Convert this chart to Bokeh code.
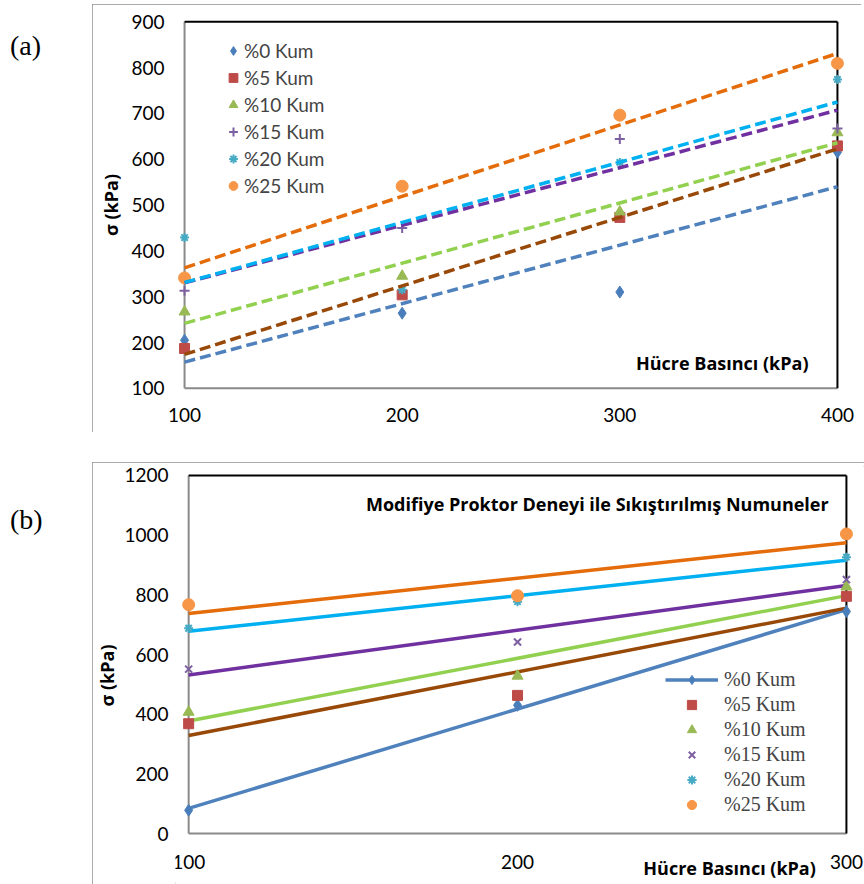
import numpy as np
from bokeh.plotting import figure
from bokeh.models import Range1d, FixedTicker, Legend, LegendItem, Label, Div
from bokeh.layouts import row, column
from bokeh.core.properties import value
from bokeh.embed import file_html
from bokeh.resources import INLINE

# ---------------- data ----------------
SERIES = ["%0 Kum", "%5 Kum", "%10 Kum", "%15 Kum", "%20 Kum", "%25 Kum"]

# panel (a)
A_X = [100, 200, 300, 400]
A_K0 = [205, 264, 310, 615]
A_K5 = [187, 304, 473, 629]
A_K10 = [267, 345, 485, 658]
A_K15 = [313, 450, 644, 667]
A_K20 = [429, 315, 593, 774]
A_K25 = [341, 541, 696, 809]
A_Y_TICKS = [100, 200, 300, 400, 500, 600, 700, 800, 900]

# panel (b)
B_X = [100, 200, 300]
B_K0 = [78, 430, 744]
B_K5 = [368, 463, 795]
B_K10 = [407, 528, 827]
B_K15 = [551, 642, 851]
B_K20 = [688, 777, 926]
B_K25 = [767, 797, 1004]
B_Y_TICKS = [0, 200, 400, 600, 800, 1000, 1200]
B_X_TICK_LABELS = [str(v) for v in B_X]

A_VALUES = [A_K0, A_K5, A_K10, A_K15, A_K20, A_K25]
B_VALUES = [B_K0, B_K5, B_K10, B_K15, B_K20, B_K25]

X_TITLE = "Hücre Basıncı (kPa)"
Y_TITLE = "σ (kPa)"
B_TITLE = "Modifiye Proktor Deneyi ile Sıkıştırılmış Numuneler"

# ---------------- styles ----------------
MARKER_COLORS = ["#4A7EBB", "#BE4B48", "#98B954", "#7D60A0", "#46AAC5", "#F79646"]
LINE_COLORS = ["#4F81BD", "#984807", "#92D050", "#7030A0", "#00B0F0", "#E46C0A"]
A_MARKERS = ["diamond", "square", "triangle", "cross", "asterisk", "circle"]
B_MARKERS = ["diamond", "square", "triangle", "x", "asterisk", "circle"]
MARKER_SIZES = [12, 10, 11, 10, 9, 12]
FONT = "Lato"
BOLD_FONT = "Open Sans"


def style_axes(p, xticks, yticks):
    for ax in (p.xaxis, p.yaxis):
        ax.axis_line_color = None
        ax.major_tick_line_color = None
        ax.minor_tick_line_color = None
        ax.major_tick_out = 0
        ax.major_tick_in = 0
        ax.major_label_text_font = FONT
        ax.major_label_text_font_size = "19px"
        ax.major_label_text_color = "black"
    p.xaxis.ticker = FixedTicker(ticks=xticks)
    p.yaxis.ticker = FixedTicker(ticks=yticks)
    p.yaxis.axis_label = Y_TITLE
    p.yaxis.axis_label_text_font = BOLD_FONT
    p.yaxis.axis_label_text_font_style = "bold"
    p.yaxis.axis_label_text_font_size = "18px"
    p.yaxis.axis_label_text_color = "black"
    p.xgrid.visible = False
    p.ygrid.visible = False


def frame_box(p, xt, yt):
    xmin, xmax, ymin, ymax = xt[0], xt[-1], yt[0], yt[-1]
    p.segment(x0=[xmin, xmin], y0=[ymin, ymin], x1=[xmin, xmax], y1=[ymax, ymin],
              line_color="#8a8a8a", line_width=2)
    p.segment(x0=[xmin, xmax], y0=[ymax, ymin], x1=[xmax, xmax], y1=[ymax, ymax],
              line_color="black", line_width=2)


BOX_STYLE = {"outline": "2px solid #8f8f8f", "outline-offset": "-2px"}

# ---------------- panel (a) ----------------
pa = figure(output_backend="svg", toolbar_location=None,
            frame_width=679, frame_height=385,
            x_range=Range1d(94, 406), y_range=Range1d(80, 920),
            min_border_left=79, min_border_right=11, min_border_top=8, min_border_bottom=35,
            outline_line_color=None, background_fill_color="white",
            border_fill_color="white", styles=BOX_STYLE, margin=(4, 0, 0, 0))
style_axes(pa, A_X, A_Y_TICKS)
pa.xaxis.major_label_standoff = 10
pa.yaxis.major_label_standoff = 7
pa.yaxis.axis_label_standoff = 5
frame_box(pa, A_X, A_Y_TICKS)

a_items = []
for i, vals in enumerate(A_VALUES):
    lw = 2 if A_MARKERS[i] in ("cross", "asterisk", "x") else 1
    r = pa.scatter(A_X, vals, marker=A_MARKERS[i], size=MARKER_SIZES[i],
                   fill_color=MARKER_COLORS[i], line_color=MARKER_COLORS[i], line_width=lw)
    a_items.append(LegendItem(label=SERIES[i], renderers=[r]))
for i, vals in enumerate(A_VALUES):
    m, c = np.polyfit(A_X, vals, 1)
    xs = [A_X[0], A_X[-1]]
    pa.line(xs, [m * x + c for x in xs], line_color=LINE_COLORS[i], line_width=3.5,
            line_dash="11 5")

leg_a = Legend(items=a_items, location=(51, 200), glyph_width=22, glyph_height=23,
               label_height=23, spacing=4, padding=0, margin=0, label_standoff=0,
               border_line_color=None, background_fill_alpha=0,
               label_text_font=FONT, label_text_font_size="19px")
pa.add_layout(leg_a)
pa.add_layout(Label(x=386.7, y=155, text=X_TITLE, text_align="right",
                    text_baseline="middle", text_font=BOLD_FONT, text_font_style="bold",
                    text_font_size="18px", text_color="black"))

# ---------------- panel (b) ----------------
# the frame reaches the bottom of the panel so that the x labels and the x title
# (which sit below the plotted area in the reference) can be drawn inside it
pb = figure(output_backend="svg", toolbar_location=None,
            frame_width=690, frame_height=418,
            x_range=Range1d(96, 305.8), y_range=Range1d(-170.7, 1230),
            min_border_left=79, min_border_right=0, min_border_top=4, min_border_bottom=0,
            outline_line_color=None, background_fill_color="white",
            border_fill_color="white", styles=BOX_STYLE, margin=0)
style_axes(pb, B_X, B_Y_TICKS)
pb.xaxis.visible = False
pb.yaxis.major_label_standoff = 7
pb.yaxis.axis_label_standoff = 2
frame_box(pb, B_X, B_Y_TICKS)

b_lines = []
for i, vals in enumerate(B_VALUES):
    m, c = np.polyfit(B_X, vals, 1)
    xs = [B_X[0], B_X[-1]]
    lr = pb.line(xs, [m * x + c for x in xs], line_color=LINE_COLORS[i], line_width=3.5)
    b_lines.append(lr)
b_items = []
for i, vals in enumerate(B_VALUES):
    lw = 2 if B_MARKERS[i] in ("cross", "asterisk", "x") else 1
    r = pb.scatter(B_X, vals, marker=B_MARKERS[i], size=MARKER_SIZES[i],
                   fill_color=MARKER_COLORS[i], line_color=MARKER_COLORS[i], line_width=lw)
    rends = [b_lines[0], r] if i == 0 else [r]
    b_items.append(LegendItem(label=SERIES[i], renderers=rends))

# x tick labels of (b), placed below the x = axis line (value 0)
pb.text(x=B_X, y=[-94] * len(B_X), text=B_X_TICK_LABELS, text_align="center",
        text_baseline="middle", text_font=value(FONT), text_font_size="19px",
        text_color="black")

leg_b = Legend(items=b_items, location=(490, 68), glyph_width=53, glyph_height=23,
               label_height=23, spacing=2, padding=0, margin=0, label_standoff=6,
               border_line_color=None, background_fill_alpha=0,
               label_text_font="Liberation Serif", label_text_font_size="20px")
pb.add_layout(leg_b)
pb.add_layout(Label(x=294.6, y=1103, text=B_TITLE,
                    text_align="right", text_baseline="middle", text_font=BOLD_FONT,
                    text_font_style="bold", text_font_size="18px", text_color="black"))
pb.add_layout(Label(x=290.7, y=-117, text=X_TITLE,
                    text_align="right", text_baseline="middle", text_font=BOLD_FONT,
                    text_font_style="bold", text_font_size="18px", text_color="black"))

# ---------------- page ----------------
div_a = Div(text='<div style="font-family:\'Liberation Serif\';font-size:28px;padding:26px 0 0 10px;">(a)</div>',
            width=92, height=432, margin=0)
div_b = Div(text='<div style="font-family:\'Liberation Serif\';font-size:28px;padding:38px 0 0 10px;">(b)</div>',
            width=92, height=422, margin=0)

layout = column(row(div_a, pa), row(div_b, pb), spacing=30)
open("out.html", "w").write(file_html(layout, INLINE))
